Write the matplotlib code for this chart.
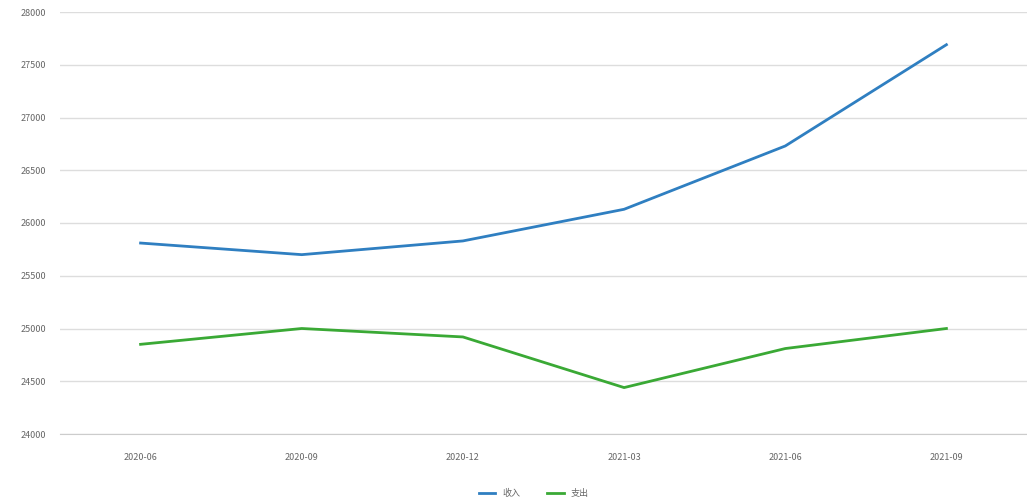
import matplotlib.pyplot as plt

plt.rcParams['font.family'] = ['Noto Sans CJK SC', 'DejaVu Sans']

months = ["2020-06", "2020-09", "2020-12", "2021-03", "2021-06", "2021-09"]
series_a = [25810, 25700, 25830, 26130, 26730, 27690]
series_b = [24850, 25000, 24920, 24440, 24810, 25000]
name_a = "收入"
name_b = "支出"
yticks = [24000, 24500, 25000, 25500, 26000, 26500, 27000, 27500, 28000]

fig = plt.figure(figsize=(10.27, 4.99), dpi=100)
ax = fig.add_axes([60/1027, 65/499, 967/1027, 422/499])

x = list(range(len(months)))
ax.plot(x, series_a, color='#2f7fc1', lw=2.0, label=name_a)
ax.plot(x, series_b, color='#3aa935', lw=2.0, label=name_b)

ax.set_xlim(-0.5, len(months) - 0.5)
ax.set_ylim(24000, 28000)
ax.set_yticks(yticks)
ax.set_yticklabels([str(v) for v in yticks], fontsize=6.5, color='#666666')
ax.set_xticks(x)
ax.set_xticklabels(months, fontsize=6.5, color='#666666')
ax.tick_params(length=0, pad=14)
ax.tick_params(axis='y', pad=10)
ax.grid(axis='y', color='#dddddd', lw=1)
for s in ax.spines.values():
    s.set_visible(False)
ax.spines['bottom'].set_visible(True)
ax.spines['bottom'].set_color('#cccccc')

ax.legend(loc='upper center', bbox_to_anchor=(0.49, -0.11), ncol=2, frameon=False,
          fontsize=6.5, handlelength=1.8, columnspacing=3, labelcolor='#666666')

fig.savefig('out.png', dpi=100)
